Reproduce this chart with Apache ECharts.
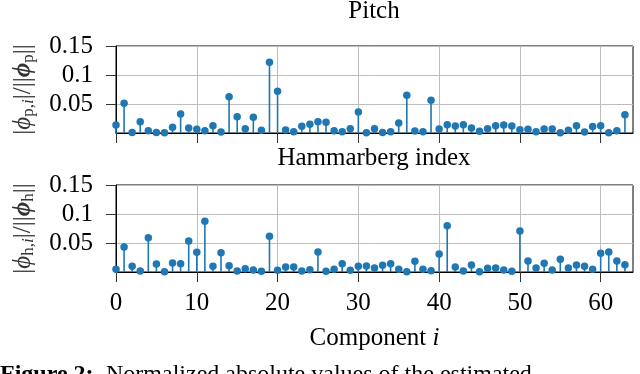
<!DOCTYPE html>
<html>
<head>
<meta charset="utf-8">
<script src="https://cdn.jsdelivr.net/npm/echarts@6/dist/echarts.min.js"></script>
<style>
  html, body { margin: 0; padding: 0; background: #fff; }
  #chart { width: 640px; height: 374px; }
</style>
</head>
<body>
<div id="chart"></div>
<script>
// data
const components = [];
for (let i = 0; i < 64; i++) components.push(i);

const pitchValues = [
    0.0138, 0.0512, 0.001, 0.0196, 0.004, 0.001, 0.0005, 0.0098, 0.0328, 0.0086,
    0.0063, 0.004, 0.0127, 0.0017, 0.0627, 0.0282, 0.0075, 0.027, 0.0046, 0.122,
    0.0719, 0.0052, 0.0023, 0.0115, 0.015, 0.0196, 0.0184, 0.004, 0.0023, 0.0075,
    0.0362, 0.0005, 0.0075, 0.001, 0.002, 0.0173, 0.065, 0.0035, 0.0023, 0.0563,
    0.0069, 0.0144, 0.012, 0.0144, 0.0086, 0.0029, 0.0075, 0.0127, 0.0138, 0.012,
    0.0058, 0.0063, 0.0023, 0.0069, 0.0069, 0.0006, 0.0046, 0.0127, 0.0017, 0.011,
    0.0127, 0.0005, 0.004, 0.0316
];

const hammarbergValues = [
    0.0046, 0.0431, 0.0098, 0.0017, 0.0592, 0.0138, 0.0003, 0.0155, 0.0144, 0.0535,
    0.0339, 0.0874, 0.0098, 0.0334, 0.0109, 0.0017, 0.0058, 0.0035, 0.0012, 0.0615,
    0.0029, 0.0086, 0.0086, 0.0017, 0.004, 0.0345, 0.0012, 0.0046, 0.0144, 0.0029,
    0.0098, 0.0104, 0.0069, 0.0115, 0.0144, 0.0046, 0.0006, 0.0184, 0.0046, 0.0023,
    0.031, 0.0799, 0.0086, 0.0017, 0.0121, 0.0006, 0.0063, 0.0069, 0.0035, 0.0012,
    0.0707, 0.019, 0.0069, 0.015, 0.0035, 0.0219, 0.0069, 0.0121, 0.0098, 0.0046,
    0.0322, 0.0345, 0.019, 0.0127
];

const xTicks = [0, 10, 20, 30, 40, 50, 60];
const yTicks = [0.05, 0.1, 0.15];

const FONT = 'Liberation Serif';
const BLUE = '#1f77b4';

const pairs = (vals) => components.map((c, i) => [c, vals[i]]);

const makeX = (idx, showLabels) => ({
    type: 'value',
    gridIndex: idx,
    min: 0,
    max: 64,
    interval: 10,
    axisLine: { show: true, lineStyle: { color: '#000', width: 1 } },
    axisTick: { show: true, inside: false, length: 10, customValues: xTicks, lineStyle: { color: '#333', width: 1 } },
    axisLabel: {
        show: showLabels, customValues: xTicks, margin: 19,
        color: '#000', fontFamily: FONT, fontSize: 25
    },
    splitLine: { show: true, lineStyle: { color: '#bdbdbd', width: 1 } },
    name: showLabels ? 'Component {i|i}' : '',
    nameLocation: 'middle',
    nameGap: 54,
    nameTextStyle: {
        color: '#000', fontFamily: FONT, fontSize: 25,
        rich: { i: { fontFamily: FONT, fontSize: 25, fontStyle: 'italic', color: '#000' } }
    }
});

const makeY = (idx, sub) => ({
    type: 'value',
    gridIndex: idx,
    min: 0,
    max: 0.15,
    interval: 0.05,
    axisLine: { show: true, lineStyle: { color: '#000', width: 1 } },
    axisTick: { show: true, inside: false, length: 10, customValues: yTicks, lineStyle: { color: '#333', width: 1 } },
    axisLabel: {
        customValues: yTicks, margin: 23,
        color: '#000', fontFamily: FONT, fontSize: 25,
        formatter: (v) => String(+v.toFixed(2))
    },
    splitLine: { show: true, lineStyle: { color: '#bdbdbd', width: 1 } },
    name: '|{it|ϕ}{sub|' + sub + ',}{subi|i}|/||{bi|ϕ}{sub|' + sub + '}||',
    nameLocation: 'middle',
    nameGap: 80,
    nameTextStyle: {
        color: '#333', fontFamily: FONT, fontSize: 25,
        rich: {
            it: { fontFamily: FONT, fontSize: 25, fontStyle: 'italic', color: '#333' },
            bi: { fontFamily: FONT, fontSize: 25, fontStyle: 'italic', fontWeight: 'bold', color: '#333' },
            sub: { fontFamily: FONT, fontSize: 17, lineHeight: 17, padding: [11, 0, 0, 0], color: '#333' },
            subi: { fontFamily: FONT, fontSize: 17, lineHeight: 17, fontStyle: 'italic', padding: [11, 0, 0, 0], color: '#333' }
        }
    }
});

const stems = (idx, vals) => ({
    type: 'bar',
    xAxisIndex: idx,
    yAxisIndex: idx,
    data: pairs(vals),
    barWidth: 1.6,
    itemStyle: { color: BLUE },
    silent: true,
    animation: false
});

const markers = (idx, vals) => ({
    type: 'scatter',
    xAxisIndex: idx,
    yAxisIndex: idx,
    data: pairs(vals),
    symbol: 'circle',
    symbolSize: 7.5,
    itemStyle: { color: BLUE, opacity: 1 },
    silent: true,
    animation: false,
    z: 5
});

const chart = echarts.init(document.getElementById('chart'), null, { renderer: 'canvas' });

chart.setOption({
    backgroundColor: '#fff',
    animation: false,
    grid: [
        { left: 116, right: 7, top: 46, height: 87, show: true, borderColor: '#000', borderWidth: 1, outerBoundsMode: 'none' },
        { left: 116, right: 7, top: 185, height: 87, show: true, borderColor: '#000', borderWidth: 1, outerBoundsMode: 'none' }
    ],
    xAxis: [makeX(0, false), makeX(1, true)],
    yAxis: [makeY(0, 'p'), makeY(1, 'h')],
    series: [
        stems(0, pitchValues), markers(0, pitchValues),
        stems(1, hammarbergValues), markers(1, hammarbergValues)
    ],
    graphic: [
        { type: 'text', x: 374, y: 11, style: { text: 'Pitch', font: '25px "Liberation Serif"', fill: '#000', textAlign: 'center', textVerticalAlign: 'middle' } },
        { type: 'text', x: 374, y: 158, style: { text: 'Hammarberg index', font: '25px "Liberation Serif"', fill: '#000', textAlign: 'center', textVerticalAlign: 'middle' } },
        { type: 'text', x: 0, y: 375, style: { text: 'Figure 2:', font: 'bold 24px "Liberation Serif"', fill: '#000', textAlign: 'left', textVerticalAlign: 'middle' } },
        { type: 'text', x: 106, y: 375, style: { text: 'Normalized absolute values of the estimated', font: '24px "Liberation Serif"', fill: '#000', textAlign: 'left', textVerticalAlign: 'middle' } }
    ]
});
</script>
</body>
</html>
